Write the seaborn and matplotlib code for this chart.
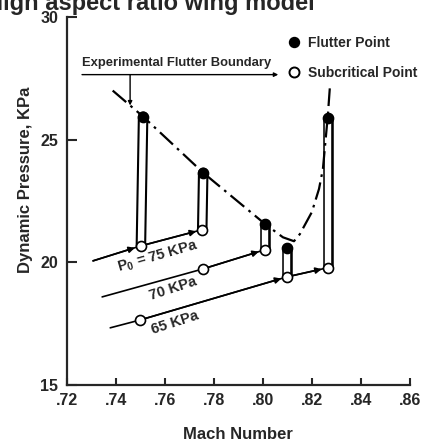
import numpy as np
import pandas as pd
import matplotlib
matplotlib.use("Agg")
import matplotlib.pyplot as plt
import seaborn as sns
from matplotlib.lines import Line2D

# flutter points (top of each column) and subcritical points (bottom)
flutter_mach = [0.7512, 0.7757, 0.8008, 0.8100, 0.8265]
flutter_q = [25.94, 23.65, 21.57, 20.59, 25.90]
sub_mach = [0.7503, 0.7753, 0.8008, 0.8100, 0.8265]
sub_q = [20.67, 21.33, 20.51, 19.41, 19.78]

# experimental flutter boundary
boundary_mach = [0.7388, 0.7512, 0.7757, 0.8008, 0.8082, 0.8127, 0.8151,
                 0.8200, 0.8229, 0.8245, 0.8265, 0.8273]
boundary_q = [27.00, 25.94, 23.65, 21.57, 21.02, 20.86, 21.15,
              22.05, 22.99, 23.81, 25.98, 27.09]

# constant stagnation pressure traverses
line75_mach = [0.7308, 0.7503, 0.7753]
line75_q = [20.06, 20.67, 21.33]
line70_mach = [0.7345, 0.7756, 0.8008]
line70_q = [18.59, 19.73, 20.51]
line65_mach = [0.7378, 0.7500, 0.8100, 0.8265]
line65_q = [17.33, 17.65, 19.41, 19.78]

xtick_vals = [0.72, 0.74, 0.76, 0.78, 0.80, 0.82, 0.84, 0.86]
xtick_labels = [".72", ".74", ".76", ".78", ".80", ".82", ".84", ".86"]
ytick_vals = [15, 20, 25, 30]

sns.set_style("ticks")
plt.rcParams["font.family"] = ["Liberation Sans", "DejaVu Sans"]
plt.rcParams["font.weight"] = "bold"
plt.rcParams["mathtext.fontset"] = "custom"
plt.rcParams["mathtext.rm"] = "Liberation Sans:bold"
plt.rcParams["mathtext.it"] = "Liberation Sans:bold"
plt.rcParams["mathtext.bf"] = "Liberation Sans:bold"

fig = plt.figure(figsize=(4.24, 4.42), dpi=100)
ax = fig.add_axes([0.157, 0.129, 0.81, 0.8326])

# traverses
traverses = [(line75_mach, line75_q, [True, True], []),
             (line70_mach, line70_q, [False, True], [1]),
             (line65_mach, line65_q, [False, True, True], [1])]
for m, q, arrows, circ in traverses:
    df = pd.DataFrame({"mach": m, "q": q})
    sns.lineplot(data=df, x="mach", y="q", sort=False, estimator=None,
                 color="black", lw=1.2, ax=ax, zorder=2)
    for i, has_arrow in enumerate(arrows):
        if has_arrow:
            ax.annotate("", xy=(m[i + 1], q[i + 1]), xytext=(m[i], q[i]),
                        arrowprops=dict(arrowstyle="-|>", color="black", lw=1.2,
                                        mutation_scale=9, shrinkA=0, shrinkB=4.5),
                        zorder=3)
    for i in circ:
        ax.plot(m[i], q[i], "o", ms=7.2, mfc="white", mec="black", mew=1.2, zorder=6)

# columns (subcritical -> flutter)
for m0, q0, m1, q1 in zip(sub_mach, sub_q, flutter_mach, flutter_q):
    ax.plot([m0, m1], [q0, q1], color="black", lw=7.6, solid_capstyle="round", zorder=3)
    ax.plot([m0, m1], [q0, q1], color="white", lw=4.6, solid_capstyle="round", zorder=3.1)

# flutter boundary
bdf = pd.DataFrame({"mach": boundary_mach, "q": boundary_q})
sns.lineplot(data=bdf, x="mach", y="q", sort=False, estimator=None, color="black",
             lw=1.6, linestyle=(0, (8, 2.5, 1.2, 2.5)), ax=ax, zorder=4)

sns.scatterplot(x=sub_mach, y=sub_q, s=52, color="white", edgecolor="black",
                linewidth=1.2, ax=ax, zorder=6)
sns.scatterplot(x=flutter_mach, y=flutter_q, s=52, color="black", edgecolor="black",
                linewidth=1.2, ax=ax, zorder=6)

# annotations
ax.text(0.7573, 20.22, r"P$_0$ = 75 KPa", rotation=16, ha="center", va="center", fontsize=10.5)
ax.text(0.7635, 18.92, "70 KPa", rotation=18, ha="center", va="center", fontsize=10.5)
ax.text(0.7643, 17.53, "65 KPa", rotation=18, ha="center", va="center", fontsize=10.5)

ax.text(0.7263, 28.14, "Experimental Flutter Boundary", ha="left", va="center", fontsize=9.4)
ax.annotate("", xy=(0.8063, 27.65), xytext=(0.7263, 27.65),
            arrowprops=dict(arrowstyle="-|>", color="black", lw=1.0,
                            mutation_scale=6, shrinkA=0, shrinkB=0))
leader_m = 0.7459
ax.annotate("", xy=(leader_m, np.interp(leader_m, boundary_mach[:2], boundary_q[:2])),
            xytext=(leader_m, 27.65),
            arrowprops=dict(arrowstyle="-|>", color="black", lw=1.0,
                            mutation_scale=6, shrinkA=0, shrinkB=0))

handles = [Line2D([], [], ls="", marker="o", ms=7.2, mfc="black", mec="black"),
           Line2D([], [], ls="", marker="o", ms=7.2, mfc="white", mec="black", mew=1.4)]
ax.legend(handles, ["Flutter Point", "Subcritical Point"], loc="upper left",
          bbox_to_anchor=(0.677, 0.918), bbox_transform=fig.transFigure,
          frameon=False, fontsize=10, handlelength=1.0, handletextpad=0.5,
          labelspacing=1.1, borderpad=0, borderaxespad=0)

ax.set_xlim(0.72, 0.86)
ax.set_ylim(15, 30)
ax.set_xticks(xtick_vals)
ax.set_xticklabels(xtick_labels)
ax.set_yticks(ytick_vals)
ax.tick_params(axis="x", direction="in", length=5, width=1.5, pad=6, labelsize=11.5)
ax.tick_params(axis="y", direction="in", length=7, width=1.5, pad=6, labelsize=11.5)
for lab in ax.get_xticklabels() + ax.get_yticklabels():
    lab.set_fontweight("bold")
sns.despine(ax=ax)
for s in ["left", "bottom"]:
    ax.spines[s].set_linewidth(1.6)

ax.set_xlabel("Mach Number", fontsize=12, fontweight="bold")
ax.set_ylabel("Dynamic Pressure, KPa", fontsize=12, fontweight="bold")
ax.xaxis.set_label_coords(0.5, -0.114)
ax.yaxis.set_label_coords(-0.0975, 0.557)

# title is cropped at the top edge in the original scan
fig.text(315 / 424, 1 - 10 / 442, "High aspect ratio wing model", ha="right",
         va="baseline", fontsize=17, fontweight="bold")

fig.savefig("out.png", dpi=100)
